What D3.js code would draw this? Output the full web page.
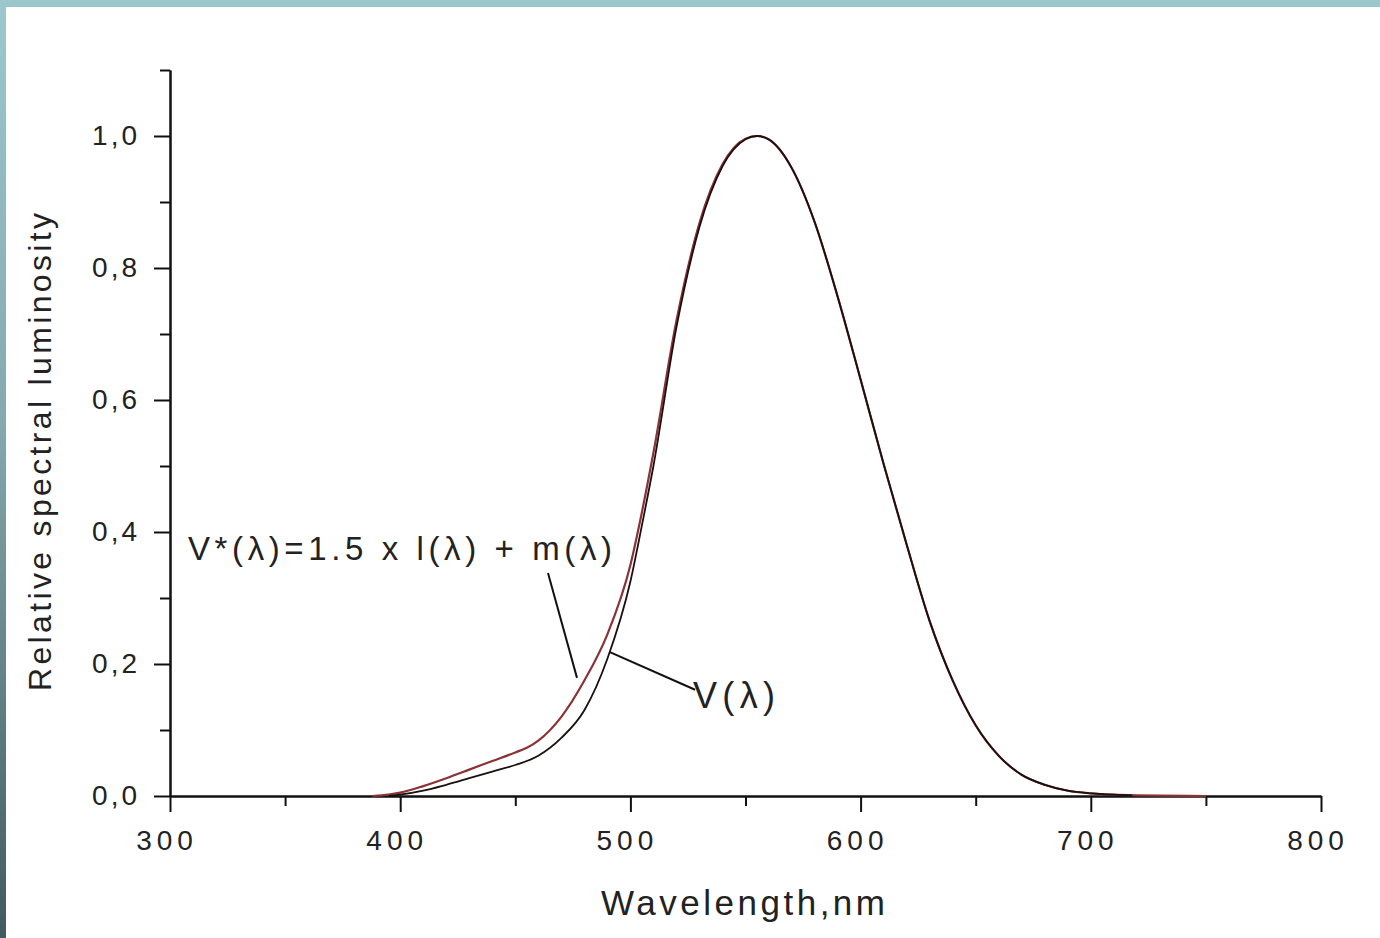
<!DOCTYPE html>
<html>
<head>
<meta charset="utf-8">
<script src="https://cdn.jsdelivr.net/npm/d3@7"></script>
<style>
  body { margin: 0; background: #fff; }
  svg { display: block; font-family: "Liberation Sans", Arial, sans-serif; }
</style>
</head>
<body>
<svg id="chart" width="1380" height="938"></svg>
<script>
// values
var wavelengthV = [395, 400, 410, 420, 430, 440, 450, 460, 470, 480, 490, 500, 505, 510, 520, 530, 540, 550, 555, 560, 570, 580, 590, 600, 610, 620, 630, 640, 650, 660, 670, 680, 690, 700, 710, 718]
var valuesV = [0, 0.002, 0.008, 0.017, 0.027, 0.037, 0.047, 0.061, 0.088, 0.13, 0.208, 0.325, 0.41, 0.5, 0.71, 0.862, 0.954, 0.995, 1.0, 0.995, 0.952, 0.87, 0.757, 0.631, 0.503, 0.381, 0.265, 0.175, 0.107, 0.061, 0.032, 0.017, 0.008, 0.004, 0.002, 0.001]

var wavelengthVstar = [388, 395, 400, 410, 420, 430, 440, 450, 455, 460, 470, 480, 490, 500, 505, 510, 520, 530, 540, 550, 555, 560, 570, 580, 590, 600, 610, 620, 630, 640, 650, 660, 670, 680, 690, 700, 710, 720, 730, 750]
var valuesVstar = [0, 0.002, 0.005, 0.015, 0.027, 0.04, 0.053, 0.066, 0.073, 0.084, 0.12, 0.175, 0.245, 0.35, 0.43, 0.52, 0.72, 0.868, 0.957, 0.996, 1.0, 0.995, 0.952, 0.87, 0.757, 0.631, 0.503, 0.381, 0.265, 0.175, 0.107, 0.061, 0.032, 0.017, 0.008, 0.004, 0.002, 0.001, 0.0005, 0]

var xMajor = [300, 400, 500, 600, 700, 800]
var xMinor = [350, 450, 550, 650, 750]
var yMajor = [0, 0.2, 0.4, 0.6, 0.8, 1.0]
var yMinor = [0.1, 0.3, 0.5, 0.7, 0.9, 1.1]

var labelVstar = "V*(λ)=1.5  x l(λ)  + m(λ)"
var labelV = "V(λ)"
var pointerVstar = [[464.2, 0.338], [476.8, 0.179]]
var pointerV = [[491.1, 0.218], [528.1, 0.161]]

var width = 1380
var height = 938

var svg = d3.select("#chart")

// frame of the slide
var defs = svg.append("defs")
var grad = defs.append("linearGradient")
    .attr("id", "leftBand")
    .attr("x1", 0).attr("y1", 0).attr("x2", 0).attr("y2", 1)
grad.append("stop").attr("offset", "0%").attr("stop-color", "#9cc8cd")
grad.append("stop").attr("offset", "45%").attr("stop-color", "#84a9ae")
grad.append("stop").attr("offset", "100%").attr("stop-color", "#435a5f")

svg.append("rect")
    .attr("x", 0).attr("y", 0)
    .attr("width", width).attr("height", 7)
    .style("fill", "#9bc7cc")
svg.append("rect")
    .attr("x", 0).attr("y", 0)
    .attr("width", 6).attr("height", height)
    .style("fill", "url(#leftBand)")

var x = d3.scaleLinear().domain([300, 800]).range([170, 1321])
var y = d3.scaleLinear().domain([0, 1.1]).range([796, 70])

var fmt = function (d) { return d3.format(".1f")(d).replace(".", ",") }

// x axis
svg.append("g")
    .attr("class", "xMinor")
    .attr("transform", "translate(0," + y(0) + ")")
    .call(d3.axisBottom(x).tickValues(xMinor).tickSize(10).tickSizeOuter(0).tickFormat(""))
svg.append("g")
    .attr("class", "xaxis")
    .attr("transform", "translate(0," + y(0) + ")")
    .call(d3.axisBottom(x).tickValues(xMajor).tickSize(16).tickSizeOuter(0).tickPadding(18))

// y axis
svg.append("g")
    .attr("class", "yMinor")
    .attr("transform", "translate(" + x(300) + ",0)")
    .call(d3.axisLeft(y).tickValues(yMinor).tickSize(10).tickSizeOuter(0).tickFormat(""))
svg.append("g")
    .attr("class", "yaxis")
    .attr("transform", "translate(" + x(300) + ",0)")
    .call(d3.axisLeft(y).tickValues(yMajor).tickSize(16).tickSizeOuter(0).tickPadding(14).tickFormat(fmt))

svg.selectAll(".domain, .tick line")
    .style("stroke", "#111")
    .style("stroke-width", 2)
svg.selectAll(".tick text")
    .style("font-size", "28px")
    .style("fill", "#222")
svg.selectAll(".xaxis .tick text")
    .style("letter-spacing", "5px")
    .attr("dx", -3.5)
svg.selectAll(".yaxis .tick text")
    .style("letter-spacing", "3px")

// curves
var lineVstar = d3.line()
    .x(function (d, i) { return x(wavelengthVstar[i]) })
    .y(function (d) { return y(d) })
    .curve(d3.curveMonotoneX)
var lineV = d3.line()
    .x(function (d, i) { return x(wavelengthV[i]) })
    .y(function (d) { return y(d) })
    .curve(d3.curveMonotoneX)

svg.append("path")
    .datum(valuesVstar)
    .attr("class", "vstar")
    .attr("d", lineVstar)
    .style("fill", "none")
    .style("stroke", "#8a3236")
    .style("stroke-width", 2.2)
svg.append("path")
    .datum(valuesV)
    .attr("class", "v")
    .attr("d", lineV)
    .style("fill", "none")
    .style("stroke", "#1a1010")
    .style("stroke-width", 1.8)

// leader lines
var pointer = d3.line()
    .x(function (d) { return x(d[0]) })
    .y(function (d) { return y(d[1]) })
svg.selectAll(".pointer")
    .data([pointerVstar, pointerV])
    .enter()
    .append("path")
    .attr("class", "pointer")
    .attr("d", pointer)
    .style("fill", "none")
    .style("stroke", "#111")
    .style("stroke-width", 2)

// labels on the plot
svg.append("text")
    .attr("x", 188)
    .attr("y", 560)
    .attr("textLength", 424)
    .attr("lengthAdjust", "spacing")
    .style("font-size", "33px")
    .style("fill", "#222")
    .text(labelVstar)
svg.append("text")
    .attr("x", 693)
    .attr("y", 708)
    .attr("textLength", 82)
    .attr("lengthAdjust", "spacing")
    .style("font-size", "36px")
    .style("fill", "#222")
    .text(labelV)

// axis titles
svg.append("text")
    .attr("x", 743)
    .attr("y", 915)
    .attr("text-anchor", "middle")
    .attr("textLength", 284)
    .attr("lengthAdjust", "spacing")
    .style("font-size", "35px")
    .style("fill", "#222")
    .text("Wavelength,nm")
svg.append("text")
    .attr("transform", "translate(51,452) rotate(-90)")
    .attr("text-anchor", "middle")
    .attr("textLength", 478)
    .attr("lengthAdjust", "spacing")
    .style("font-size", "32px")
    .style("fill", "#222")
    .text("Relative spectral luminosity")
</script>
</body>
</html>
